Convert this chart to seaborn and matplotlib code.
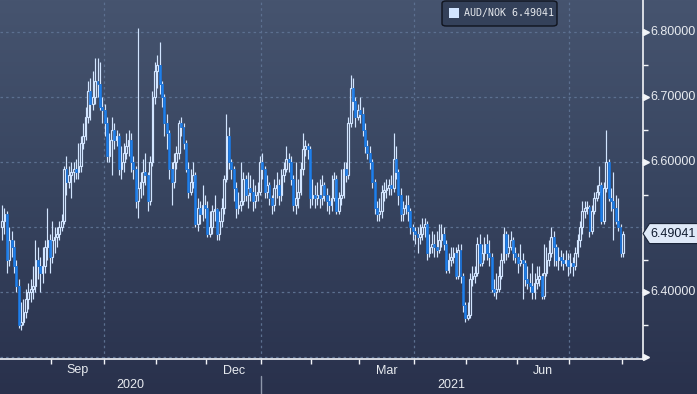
import numpy as np
import pandas as pd
import matplotlib
matplotlib.use("Agg")
import matplotlib.pyplot as plt
import matplotlib.transforms as mtransforms
from matplotlib.patches import Polygon, FancyBboxPatch, Rectangle
from matplotlib.colors import LinearSegmentedColormap
import seaborn as sns

# ---------------- data ----------------
first_open = 6.50
closes = [
    6.51, 6.52, 6.45, 6.48, 6.47, 6.44, 6.41, 6.35, 6.355, 6.37,
    6.39, 6.40, 6.405, 6.41, 6.45, 6.44, 6.43, 6.44, 6.47, 6.48,
    6.455, 6.48, 6.485, 6.49, 6.50, 6.51, 6.59, 6.57, 6.58, 6.585,
    6.59, 6.585, 6.595, 6.63, 6.64, 6.67, 6.71, 6.69, 6.70, 6.725,
    6.72, 6.685, 6.68, 6.66, 6.61, 6.635, 6.65, 6.635, 6.64, 6.59,
    6.60, 6.615, 6.625, 6.635, 6.60, 6.59, 6.54, 6.56, 6.57, 6.585,
    6.58, 6.54, 6.60, 6.70, 6.74, 6.75, 6.72, 6.70, 6.66, 6.645,
    6.59, 6.57, 6.60, 6.615, 6.66, 6.655, 6.63, 6.59, 6.555, 6.57,
    6.58, 6.505, 6.53, 6.52, 6.535, 6.53, 6.49, 6.50, 6.525, 6.528,
    6.49, 6.51, 6.53, 6.575, 6.64, 6.60, 6.59, 6.56, 6.53, 6.535,
    6.54, 6.575, 6.55, 6.56, 6.555, 6.54, 6.55, 6.555, 6.60, 6.59,
    6.555, 6.565, 6.545, 6.535, 6.56, 6.565, 6.55, 6.58, 6.59, 6.605,
    6.60, 6.575, 6.535, 6.545, 6.555, 6.59, 6.62, 6.625, 6.62, 6.545,
    6.55, 6.545, 6.55, 6.545, 6.565, 6.55, 6.54, 6.535, 6.545, 6.575,
    6.525, 6.545, 6.55, 6.59, 6.58, 6.66, 6.715, 6.695, 6.67, 6.68,
    6.675, 6.65, 6.625, 6.615, 6.60, 6.57, 6.53, 6.52, 6.525, 6.555,
    6.558, 6.56, 6.565, 6.56, 6.605, 6.585, 6.55, 6.52, 6.53, 6.535,
    6.525, 6.50, 6.495, 6.49, 6.485, 6.49, 6.50, 6.505, 6.46, 6.47,
    6.475, 6.47, 6.465, 6.48, 6.49, 6.475, 6.435, 6.45, 6.455, 6.46,
    6.425, 6.465, 6.425, 6.38, 6.36, 6.365, 6.42, 6.425, 6.43, 6.475,
    6.445, 6.46, 6.475, 6.46, 6.455, 6.405, 6.40, 6.405, 6.425, 6.45,
    6.49, 6.46, 6.47, 6.48, 6.46, 6.455, 6.445, 6.45, 6.445, 6.42,
    6.415, 6.41, 6.40, 6.415, 6.42, 6.425, 6.395, 6.43, 6.45, 6.46,
    6.485, 6.47, 6.45, 6.455, 6.45, 6.445, 6.45, 6.44, 6.445, 6.44,
    6.46, 6.48, 6.50, 6.525, 6.53, 6.532, 6.495, 6.525, 6.545, 6.555,
    6.565, 6.51, 6.56, 6.60, 6.545, 6.54, 6.53, 6.51, 6.50, 6.46,
    6.49041,
]
highs = [
    6.535, 6.53, 6.525, 6.50, 6.495, 6.48, 6.45, 6.42, 6.385, 6.39,
    6.405, 6.415, 6.42, 6.44, 6.48, 6.47, 6.455, 6.47, 6.48, 6.53,
    6.49, 6.51, 6.50, 6.50, 6.51, 6.52, 6.595, 6.61, 6.595, 6.60,
    6.60, 6.605, 6.63, 6.64, 6.66, 6.685, 6.725, 6.73, 6.74, 6.76,
    6.76, 6.755, 6.70, 6.69, 6.67, 6.645, 6.67, 6.66, 6.65, 6.645,
    6.625, 6.63, 6.645, 6.65, 6.645, 6.61, 6.595, 6.806, 6.585, 6.605,
    6.615, 6.585, 6.61, 6.71, 6.755, 6.765, 6.785, 6.725, 6.705, 6.675,
    6.65, 6.60, 6.615, 6.625, 6.665, 6.67, 6.66, 6.635, 6.60, 6.59,
    6.60, 6.585, 6.545, 6.54, 6.565, 6.55, 6.54, 6.525, 6.535, 6.55,
    6.53, 6.525, 6.545, 6.58, 6.675, 6.655, 6.605, 6.595, 6.57, 6.555,
    6.60, 6.585, 6.58, 6.585, 6.58, 6.575, 6.565, 6.57, 6.61, 6.615,
    6.595, 6.58, 6.57, 6.55, 6.575, 6.585, 6.575, 6.59, 6.60, 6.625,
    6.615, 6.61, 6.58, 6.60, 6.575, 6.60, 6.645, 6.635, 6.63, 6.625,
    6.575, 6.565, 6.57, 6.575, 6.58, 6.57, 6.56, 6.55, 6.58, 6.585,
    6.58, 6.555, 6.59, 6.60, 6.60, 6.67, 6.735, 6.73, 6.70, 6.69,
    6.70, 6.685, 6.66, 6.635, 6.625, 6.605, 6.575, 6.54, 6.545, 6.565,
    6.57, 6.575, 6.575, 6.58, 6.645, 6.625, 6.59, 6.56, 6.54, 6.55,
    6.55, 6.53, 6.505, 6.50, 6.50, 6.505, 6.515, 6.515, 6.51, 6.49,
    6.495, 6.49, 6.495, 6.505, 6.505, 6.50, 6.48, 6.46, 6.47, 6.47,
    6.47, 6.475, 6.475, 6.43, 6.385, 6.385, 6.43, 6.44, 6.44, 6.485,
    6.49, 6.475, 6.485, 6.49, 6.48, 6.46, 6.42, 6.43, 6.44, 6.46,
    6.50, 6.495, 6.49, 6.495, 6.485, 6.47, 6.46, 6.475, 6.46, 6.45,
    6.44, 6.43, 6.445, 6.43, 6.44, 6.44, 6.43, 6.475, 6.47, 6.48,
    6.50, 6.495, 6.475, 6.47, 6.465, 6.46, 6.465, 6.46, 6.46, 6.455,
    6.47, 6.49, 6.51, 6.54, 6.54, 6.54, 6.535, 6.535, 6.555, 6.565,
    6.595, 6.57, 6.57, 6.65, 6.605, 6.56, 6.585, 6.55, 6.545, 6.505,
    6.495,
]
lows = [
    6.48, 6.49, 6.43, 6.44, 6.455, 6.43, 6.40, 6.345, 6.342, 6.35,
    6.36, 6.375, 6.385, 6.39, 6.40, 6.42, 6.40, 6.415, 6.43, 6.45,
    6.43, 6.445, 6.46, 6.47, 6.48, 6.495, 6.505, 6.55, 6.56, 6.545,
    6.57, 6.575, 6.575, 6.585, 6.62, 6.635, 6.66, 6.665, 6.68, 6.69,
    6.70, 6.68, 6.66, 6.64, 6.60, 6.60, 6.58, 6.62, 6.625, 6.58,
    6.575, 6.585, 6.605, 6.61, 6.585, 6.575, 6.53, 6.515, 6.545, 6.55,
    6.565, 6.525, 6.535, 6.595, 6.69, 6.715, 6.705, 6.685, 6.64, 6.62,
    6.575, 6.535, 6.56, 6.59, 6.605, 6.64, 6.62, 6.585, 6.545, 6.55,
    6.56, 6.50, 6.495, 6.505, 6.51, 6.515, 6.485, 6.485, 6.49, 6.51,
    6.48, 6.48, 6.50, 6.52, 6.57, 6.59, 6.575, 6.54, 6.515, 6.52,
    6.525, 6.535, 6.54, 6.53, 6.54, 6.525, 6.53, 6.54, 6.55, 6.575,
    6.545, 6.545, 6.535, 6.52, 6.525, 6.545, 6.535, 6.54, 6.57, 6.585,
    6.585, 6.565, 6.525, 6.52, 6.53, 6.55, 6.58, 6.61, 6.605, 6.53,
    6.535, 6.53, 6.535, 6.53, 6.535, 6.54, 6.525, 6.52, 6.525, 6.54,
    6.52, 6.52, 6.535, 6.545, 6.57, 6.575, 6.655, 6.68, 6.655, 6.665,
    6.66, 6.64, 6.615, 6.605, 6.59, 6.56, 6.52, 6.51, 6.51, 6.515,
    6.54, 6.545, 6.55, 6.55, 6.555, 6.575, 6.535, 6.51, 6.51, 6.52,
    6.51, 6.49, 6.48, 6.475, 6.46, 6.475, 6.48, 6.485, 6.45, 6.455,
    6.46, 6.455, 6.455, 6.46, 6.47, 6.465, 6.43, 6.43, 6.44, 6.445,
    6.42, 6.42, 6.415, 6.37, 6.355, 6.357, 6.36, 6.41, 6.415, 6.425,
    6.44, 6.44, 6.45, 6.45, 6.44, 6.40, 6.395, 6.39, 6.40, 6.42,
    6.445, 6.45, 6.455, 6.465, 6.45, 6.445, 6.43, 6.44, 6.39, 6.41,
    6.405, 6.40, 6.39, 6.39, 6.405, 6.41, 6.39, 6.39, 6.425, 6.44,
    6.455, 6.44, 6.44, 6.435, 6.44, 6.435, 6.44, 6.425, 6.43, 6.425,
    6.435, 6.455, 6.47, 6.49, 6.515, 6.52, 6.485, 6.49, 6.52, 6.54,
    6.55, 6.505, 6.505, 6.555, 6.54, 6.525, 6.48, 6.505, 6.495, 6.455,
    6.455,
]
start_date = "2020-08-03"
month_labels = ["Sep", "Dec", "Mar", "Jun"]
year_labels = ["2020", "2021"]
grid_prices = [6.3, 6.4, 6.5, 6.6, 6.7, 6.8]
labelled_prices = [6.4, 6.6, 6.7, 6.8]
arrow_prices = [6.3, 6.4, 6.6, 6.7, 6.8]
minor_prices = [6.35, 6.45, 6.55, 6.65, 6.75]
last_price_label = "6.49041"
legend_label = "AUD/NOK 6.49041"

# ---------------- derived frame ----------------
n = len(closes)
dates = pd.bdate_range(start_date, periods=n)
df = pd.DataFrame({"date": dates, "close": closes, "high": highs, "low": lows})
df["open"] = [first_open] + closes[:-1]
df["high"] = np.maximum(df["high"], np.maximum(df["open"], df["close"]))
df["low"] = np.minimum(df["low"], np.minimum(df["open"], df["close"]))
df["x"] = np.arange(n)
df["up"] = df["close"] >= df["open"]
df["top"] = np.maximum(df["open"], df["close"])
df["bot"] = np.minimum(df["open"], df["close"])

# ---------------- style ----------------
W, H = 697, 394
sns.set_theme(style="dark")
plt.rcParams["font.family"] = ["Liberation Sans", "DejaVu Sans"]

fig = plt.figure(figsize=(W / 100, H / 100), dpi=100)

# gradient background
bg = fig.add_axes([0, 0, 1, 1], zorder=-10)
cmap = LinearSegmentedColormap.from_list("bg", ["#46546f", "#37445f", "#29314c"])
grad = np.linspace(0, 1, 256).reshape(-1, 1)
bg.imshow(grad, aspect="auto", cmap=cmap, extent=[0, 1, 0, 1], origin="upper")
bg.set_axis_off()

ax_right_px = 642.5
ax_bottom_px = 359.3
ax = fig.add_axes([0, 1 - ax_bottom_px / H, ax_right_px / W, ax_bottom_px / H])
ax.patch.set_alpha(0)
ax.set_xlim(-0.84, 268.2)
ax.set_ylim(6.297, 6.8497)

up_col = "#d2e5ff"
dn_col = "#1f80ea"

# wicks (not drawn through hollow bodies)
ax.vlines(df["x"], df["top"], df["high"], color=up_col, lw=0.85, zorder=3)
ax.vlines(df["x"], df["low"], df["bot"], color=up_col, lw=0.85, zorder=3)
# bodies
u = df[df["up"]]
d = df[~df["up"]]
ax.bar(u["x"], np.maximum(u["top"] - u["bot"], 0.0015), bottom=u["bot"], width=0.72,
       facecolor="none", edgecolor=up_col, linewidth=0.85, zorder=4)
ax.bar(d["x"], np.maximum(d["top"] - d["bot"], 0.0015), bottom=d["bot"], width=0.8,
       facecolor=dn_col, edgecolor="#1b74dc", linewidth=0.5, zorder=4)

# month positions
month_start = [i for i in range(1, n) if dates[i].month != dates[i - 1].month]
tick_pos = [i - 0.5 for i in month_start]
quarter_pos = [i - 0.5 for i in month_start if dates[i].month in (1, 4, 7, 10)]
grid_col = "#5c7090"
for yv in grid_prices:
    ax.axhline(yv, color=grid_col, lw=0.9, ls=(0, (2, 2.5)), zorder=1)
for xv in quarter_pos:
    ax.axvline(xv, color=grid_col, lw=0.9, ls=(0, (2, 2.5)), zorder=1)

sns.despine(ax=ax, left=True, top=True, right=False, bottom=False)
for s in ("right", "bottom"):
    ax.spines[s].set_color("#f2f4f8")
    ax.spines[s].set_linewidth(1.2)
ax.grid(False)

ax.set_xticks(tick_pos)
ax.set_xticklabels([])
ax.tick_params(axis="x", direction="out", length=3.5, width=1, color="#f2f4f8", bottom=True)
ax.set_yticks([])
ax.yaxis.tick_right()
ax.set_yticks(minor_prices, minor=True)
ax.tick_params(axis="y", which="minor", direction="out", length=3.5, width=1,
               color="#f2f4f8", right=True, left=False)
ax.tick_params(axis="y", which="major", right=False, left=False, labelright=False, labelleft=False)

txt_col = "#e8ebf0"
trans_r = mtransforms.blended_transform_factory(ax.transAxes, ax.transData)
for p in arrow_prices:
    ax.plot([646 / ax_right_px], [p], marker=">", ms=4.5, color="#f2f4f8",
            transform=trans_r, clip_on=False, zorder=6)
for p in labelled_prices:
    ax.text(650.5 / ax_right_px, p, f"{p:.5f}", transform=trans_r, ha="left", va="center",
            fontsize=9.0, color=txt_col, clip_on=False)

# last price flag
fig.canvas.draw()
yp = ax.transData.transform((0, closes[-1]))[1]
x0 = ax_right_px
flag = Polygon([(x0 + 0.5, yp), (x0 + 7, yp + 10), (W + 5, yp + 10), (W + 5, yp - 10), (x0 + 7, yp - 10)],
               closed=True, transform=None, facecolor="#dfe9f8", edgecolor="#1a2438",
               linewidth=0.8, zorder=10)
fig.patches.append(flag)
fig.text(650.5 / W, yp / H, last_price_label, ha="left", va="center", fontsize=9.0,
         color="#0f1a2e", zorder=11)

# month and year labels below the axis
trans_b = mtransforms.blended_transform_factory(ax.transData, fig.transFigure)
for lab in month_labels:
    mnum = {"Sep": 9, "Dec": 12, "Mar": 3, "Jun": 6}[lab]
    idx = [i for i in range(n) if dates[i].month == mnum]
    mid = (idx[0] - 0.5 + idx[-1] + 0.5) / 2
    ax.text(mid, 1 - 370.5 / H, lab, transform=trans_b, ha="center", va="center",
            fontsize=9, color=txt_col, clip_on=False)
jan = [i for i in month_start if dates[i].month == 1][0] - 0.5
xmin, xmax = ax.get_xlim()
ax.text((xmin + jan) / 2, 1 - 385.5 / H, year_labels[0], transform=trans_b, ha="center",
        va="center", fontsize=9, color=txt_col, clip_on=False)
ax.text((jan + xmax) / 2, 1 - 385.5 / H, year_labels[1], transform=trans_b, ha="center",
        va="center", fontsize=9, color=txt_col, clip_on=False)
ax.plot([jan, jan], [1 - 376 / H, 0], transform=trans_b, color="#8d97aa", lw=1, clip_on=False)

# legend box
leg = FancyBboxPatch((442 / W, 1 - 26 / H), 115 / W, 25 / H, boxstyle="round,pad=0,rounding_size=0.006",
                     transform=fig.transFigure, facecolor="#34415a", edgecolor="#10141e",
                     linewidth=1.0, zorder=10)
fig.patches.append(leg)
fig.patches.append(Rectangle((449 / W, 1 - 17.5 / H), 10 / W, 10 / H, transform=fig.transFigure,
                             facecolor=up_col, edgecolor="none", zorder=11))
fig.text(464 / W, 1 - 13 / H, legend_label, ha="left", va="center", fontsize=7.2,
         family="DejaVu Sans Mono", color="#e6e9ee", zorder=12)

fig.savefig("out.png", dpi=100)
